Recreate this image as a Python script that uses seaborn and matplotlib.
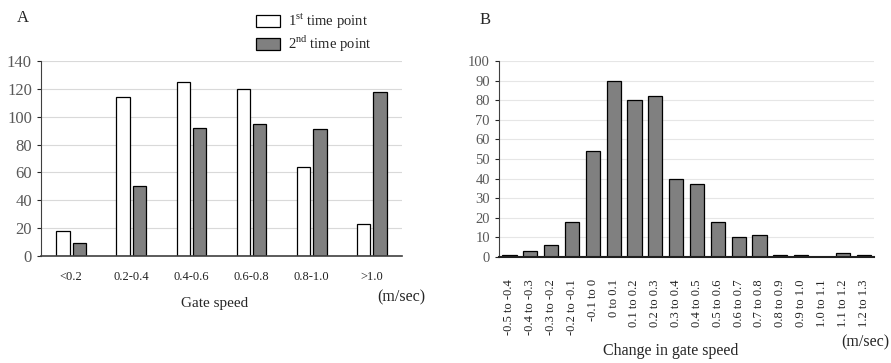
import numpy as np
import pandas as pd
import matplotlib
matplotlib.use("Agg")
import matplotlib.pyplot as plt
import seaborn as sns
from matplotlib.patches import Patch

speed_bins = ["<0.2", "0.2-0.4", "0.4-0.6", "0.6-0.8", "0.8-1.0", ">1.0"]
first_point = [18, 114, 125, 120, 64, 23]
second_point = [9, 50, 92, 95, 91, 118]

change_bins = ["-0.5 to -0.4", "-0.4 to -0.3", "-0.3 to -0.2", "-0.2 to -0.1",
               "-0.1 to 0", "0 to 0.1", "0.1 to 0.2", "0.2 to 0.3", "0.3 to 0.4",
               "0.4 to 0.5", "0.5 to 0.6", "0.6 to 0.7", "0.7 to 0.8", "0.8 to 0.9",
               "0.9 to 1.0", "1.0 to 1.1", "1.1 to 1.2", "1.2 to 1.3"]
change_counts = [1, 3, 6, 18, 54, 90, 80, 82, 40, 37, 18, 10, 11, 1, 1, 0, 2, 1]

sns.set_style("white")
plt.rcParams["font.family"] = ["Liberation Serif", "DejaVu Serif"]
plt.rcParams["mathtext.fontset"] = "custom"
plt.rcParams["mathtext.rm"] = "Liberation Serif"

grey_text = "#595959"
bar_grey = "#808080"

df_a = pd.DataFrame({
    "bin": speed_bins * 2,
    "count": first_point + second_point,
    "time": ["1st"] * 6 + ["2nd"] * 6,
})
df_b = pd.DataFrame({"bin": change_bins, "count": change_counts})

fig = plt.figure(figsize=(8.91, 3.63), dpi=100)
ax1 = fig.add_axes([41 / 891, 1 - 256 / 363, 361 / 891, 195 / 363])
ax2 = fig.add_axes([499 / 891, 1 - 257 / 363, 375 / 891, 196 / 363])

# Panel A
sns.barplot(data=df_a, x="bin", y="count", hue="time", ax=ax1,
            palette=["white", bar_grey], edgecolor="black", linewidth=0.9,
            width=0.54, gap=0.18, legend=False)
ax1.set_ylim(0, 140)
ax1.set_yticks(np.arange(0, 141, 20))
ax1.set_xlim(-0.5, 5.5)
ax1.set_xlabel("")
ax1.set_ylabel("")
ax1.tick_params(axis="x", length=0, pad=11, labelsize=9, labelcolor="#222222")
ax1.tick_params(axis="y", length=3, labelsize=12, labelcolor=grey_text, direction="out", left=True)
ax1.yaxis.grid(True, color="#d9d9d9", linewidth=0.8)
ax1.set_axisbelow(True)
for s in ["top", "right"]:
    ax1.spines[s].set_visible(False)
ax1.spines["left"].set_color("#404040")
ax1.spines["bottom"].set_color("#404040")
ax1.spines["bottom"].set_linewidth(1.2)

handles = [Patch(facecolor="white", edgecolor="black", linewidth=0.9),
           Patch(facecolor=bar_grey, edgecolor="black", linewidth=0.9)]
fig.legend(handles, [r"1$^{\mathrm{st}}$ time point", r"2$^{\mathrm{nd}}$ time point"],
           loc="upper left", bbox_to_anchor=(246 / 891, 1 - 1 / 363), frameon=False,
           fontsize=10.5, handlelength=1.6, handleheight=0.9, labelspacing=0.2,
           handletextpad=0.6, borderpad=0.2)

fig.text(17 / 891, 1 - 18 / 363, "A", fontsize=12, va="center", ha="left")
fig.text(215 / 891, 1 - 303 / 363, "Gate speed", fontsize=11, ha="center", va="center")
fig.text(401 / 891, 1 - 297 / 363, "(m/sec)", fontsize=11.5, ha="center", va="center")

# Panel B
sns.barplot(data=df_b, x="bin", y="count", ax=ax2, color=bar_grey,
            edgecolor="black", linewidth=0.9, width=0.68)
ax2.set_ylim(0, 100)
ax2.set_yticks(np.arange(0, 101, 10))
ax2.set_xlim(-0.5, 17.5)
ax2.set_xlabel("")
ax2.set_ylabel("")
ax2.tick_params(axis="x", length=0, pad=16, labelsize=9, labelrotation=90,
                labelcolor="#222222")
for lbl in ax2.get_xticklabels():
    lbl.set_va("top")
ax2.tick_params(axis="y", length=3, labelsize=10.5, labelcolor=grey_text, direction="out", left=True)
ax2.yaxis.grid(True, color="#e6e6e6", linewidth=0.8)
ax2.set_axisbelow(True)
for s in ["top", "right"]:
    ax2.spines[s].set_visible(False)
ax2.spines["left"].set_color("#404040")
ax2.spines["bottom"].set_color("#202020")
ax2.spines["bottom"].set_linewidth(1.5)

fig.text(485 / 891, 1 - 20 / 363, "B", fontsize=12, va="center", ha="center")
fig.text(671 / 891, 1 - 351 / 363, "Change in gate speed", fontsize=11.5, ha="center", va="center")
fig.text(865 / 891, 1 - 342 / 363, "(m/sec)", fontsize=11.5, ha="center", va="center")

fig.savefig("out.png", dpi=100)
